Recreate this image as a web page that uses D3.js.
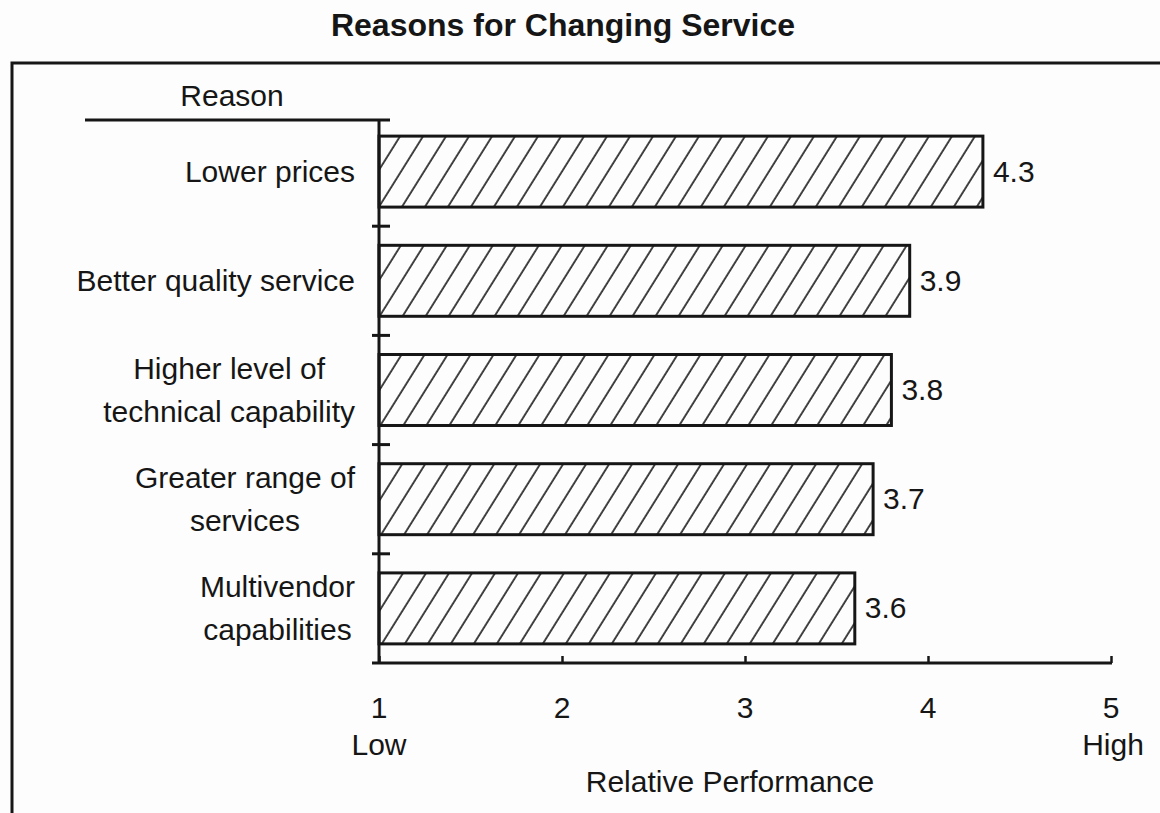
<!DOCTYPE html>
<html>
<head>
<meta charset="utf-8">
<script src="https://cdn.jsdelivr.net/npm/d3@7"></script>
<style>
  html, body { margin: 0; padding: 0; background: #fdfdfd; }
  svg { display: block; }
  text { font-family: "Liberation Sans", Arial, Helvetica, sans-serif; fill: #161616; }
</style>
</head>
<body>
<svg id="chart" width="1160" height="813"></svg>
<script>
// Survey reasons (each entry split into display lines) and their mean ratings
const reasons = [
  ["Lower prices"],
  ["Better quality service"],
  ["Higher level of", "technical capability"],
  ["Greater range of", "services"],
  ["Multivendor", "capabilities"]
];
const ratings = [4.3, 3.9, 3.8, 3.7, 3.6];
const tickValues = [1, 2, 3, 4, 5];
const tickSubLabels = { 1: "Low", 5: "High" };

const svg = d3.select("#chart");
const ink = "#161616";
const fontSize = "30px";

// Outer frame (open past the right and bottom edges)
svg.append("rect")
  .attr("x", 12).attr("y", 63)
  .attr("width", 1200).attr("height", 800)
  .attr("fill", "none").attr("stroke", ink).attr("stroke-width", 3);

// Title
svg.append("text")
  .attr("x", 563).attr("y", 36)
  .attr("text-anchor", "middle")
  .style("font-size", "32px").style("font-weight", "bold")
  .text("Reasons for Changing Service");

// Diagonal hatch pattern for the bars
const defs = svg.append("defs");
defs.append("pattern")
  .attr("id", "hatch")
  .attr("patternUnits", "userSpaceOnUse")
  .attr("width", 19.5).attr("height", 20)
  .attr("patternTransform", "rotate(32)")
  .append("line")
  .attr("x1", 2).attr("y1", -2).attr("x2", 2).attr("y2", 22)
  .attr("stroke", ink).attr("stroke-width", 1.6);

const keys = reasons.map((r, i) => i);

const x = d3.scaleLinear().domain([1, 5]).range([379, 1111]);
const y = d3.scaleBand()
  .domain(keys)
  .range([117, 663])
  .paddingInner(0.35)
  .paddingOuter(0.175);

// Bars
svg.append("g").selectAll("rect")
  .data(keys)
  .join("rect")
  .attr("x", x(1))
  .attr("y", i => y(i))
  .attr("width", i => x(ratings[i]) - x(1))
  .attr("height", y.bandwidth())
  .attr("fill", "url(#hatch)")
  .attr("stroke", ink).attr("stroke-width", 3);

// Value labels
svg.append("g").selectAll("text")
  .data(keys)
  .join("text")
  .attr("x", i => x(ratings[i]) + 10)
  .attr("y", i => y(i) + y.bandwidth() / 2 + 10)
  .style("font-size", fontSize)
  .text(i => ratings[i].toFixed(1));

// X axis (ticks point up into the plot)
const xAxis = d3.axisBottom(x)
  .tickValues(tickValues)
  .tickSize(-7)
  .tickFormat("");
const gx = svg.append("g")
  .attr("transform", "translate(0,663)")
  .call(xAxis);
gx.select(".domain").remove();
gx.selectAll(".tick line").attr("stroke", ink).attr("stroke-width", 2.5);
gx.append("line")
  .attr("x1", 372).attr("x2", x(5) + 1)
  .attr("y1", 0).attr("y2", 0)
  .attr("stroke", ink).attr("stroke-width", 3);

// X tick numbers and Low/High words
const tickText = svg.append("g");
tickText.selectAll("text.num")
  .data(tickValues)
  .join("text")
  .attr("class", "num")
  .attr("x", d => x(d))
  .attr("y", 718)
  .attr("text-anchor", "middle")
  .style("font-size", fontSize)
  .text(d => d);
tickText.selectAll("text.word")
  .data(tickValues.filter(d => tickSubLabels[d]))
  .join("text")
  .attr("class", "word")
  .attr("x", d => x(d) - (d === 5 ? -2 : 0))
  .attr("y", 755)
  .attr("text-anchor", "middle")
  .style("font-size", fontSize)
  .text(d => tickSubLabels[d]);

// X axis title
svg.append("text")
  .attr("x", 730).attr("y", 792)
  .attr("text-anchor", "middle")
  .style("font-size", fontSize)
  .text("Relative Performance");

// Y axis line and separator ticks between categories
svg.append("line")
  .attr("x1", 379).attr("x2", 379)
  .attr("y1", 120).attr("y2", 664)
  .attr("stroke", ink).attr("stroke-width", 3);
const gap = y.step() * y.paddingInner();
svg.append("g").selectAll("line")
  .data(keys.slice(1))
  .join("line")
  .attr("x1", 372).attr("x2", 390)
  .attr("y1", i => y(i) - gap / 2)
  .attr("y2", i => y(i) - gap / 2)
  .attr("stroke", ink).attr("stroke-width", 3);

// Column header
svg.append("text")
  .attr("x", 232).attr("y", 106)
  .attr("text-anchor", "middle")
  .style("font-size", fontSize)
  .text("Reason");
svg.append("line")
  .attr("x1", 85).attr("x2", 390)
  .attr("y1", 120).attr("y2", 120)
  .attr("stroke", ink).attr("stroke-width", 3);

// Category labels: right-aligned block, multi-line entries centred within it
const labelRight = 355;
const lineGap = 43;
const catG = svg.append("g");
keys.forEach(i => {
  const lines = reasons[i];
  const cy = y(i) + y.bandwidth() / 2;
  const g = catG.append("g");
  const texts = lines.map((s, k) => g.append("text")
    .attr("y", cy + 10 + (k - (lines.length - 1) / 2) * lineGap)
    .style("font-size", fontSize)
    .text(s));
  if (lines.length === 1) {
    texts[0].attr("x", labelRight).attr("text-anchor", "end");
  } else {
    const w = d3.max(texts, t => t.node().getComputedTextLength());
    texts.forEach(t => t.attr("x", labelRight - w / 2).attr("text-anchor", "middle"));
  }
});
</script>
</body>
</html>
